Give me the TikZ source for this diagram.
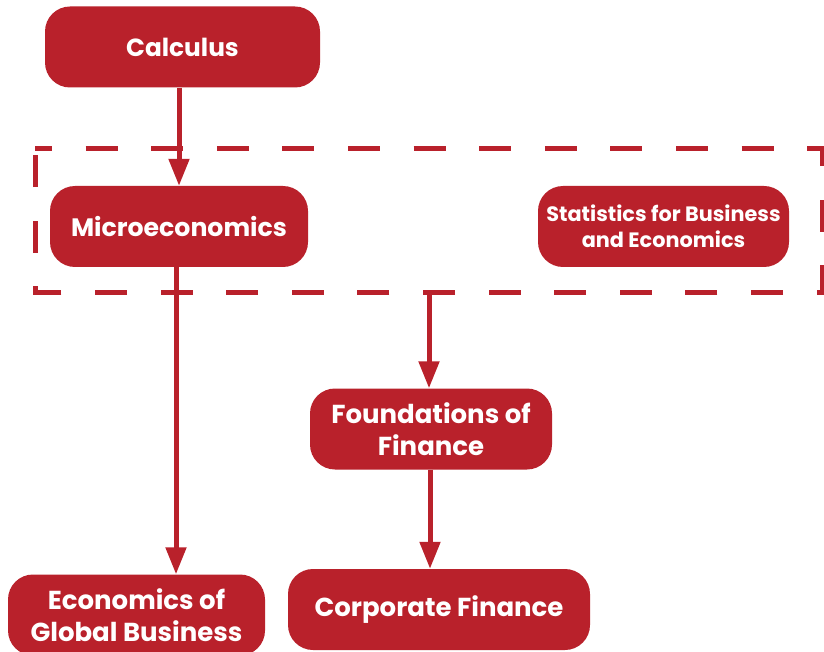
\documentclass[tikz,border=0pt]{standalone}
\usepackage{fontspec}
\setmainfont{Poppins}
\usetikzlibrary{arrows.meta}
\definecolor{cred}{RGB}{185,33,43}
\tikzset{
  cbox/.style={fill=cred, text=white, rounded corners=25pt, minimum height=81pt, align=center, inner sep=0pt, font=\bfseries\fontsize{26}{32}\selectfont},
  arr/.style={draw=cred, line width=5pt, -{Triangle[length=27pt,width=20pt]}},
  grpbox/.style={draw=cred, line width=5pt, dash pattern=on 32pt off 33.6pt, dash phase=15pt, inner sep=0pt}
}
\begin{document}
\begin{tikzpicture}[x=1pt,y=-1pt]
\useasboundingbox (0,0) rectangle (824,652);
\node[cbox, minimum width=275pt, font=\bfseries\fontsize{24.8}{32}\selectfont] (calc) at (182.5,47) {Calculus};
\node[cbox, minimum width=258pt, font=\bfseries\fontsize{25.2}{32}\selectfont] (micro) at (179,226.5) {Microeconomics};
\node[cbox, minimum width=251pt, font=\bfseries\fontsize{20.8}{26}\selectfont] (stat) at (663.5,226.5) {Statistics for Business\\and Economics};
\node[cbox, minimum width=242pt] (found) at (431,429) {Foundations of\\Finance};
\node[cbox, minimum width=257pt] (econ) at (136.5,615) {Economics of\\Global Business};
\node[cbox, minimum width=302pt] (corp) at (439,609.5) {Corporate Finance};
\draw[grpbox] (35,149) -- (822,149) -- (822,292) -- (35,292) -- cycle;
\coordinate (grpS) at (429,292);
\draw[arr] (micro.north |- calc.south) -- (micro.north);
\draw[arr] ([xshift=-3pt]micro.south) -- ([xshift=-3pt]micro.south |- econ.north);
\draw[arr] (grpS) -- (grpS |- found.north);
\draw[arr] ([xshift=-1pt]found.south) -- ([xshift=-1pt]found.south |- corp.north);
\end{tikzpicture}
\end{document}
